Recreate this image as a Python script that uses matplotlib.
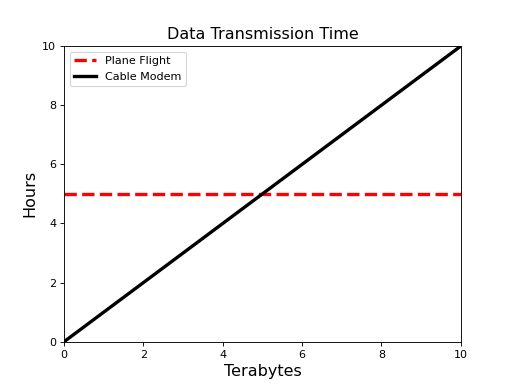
import numpy as np
import matplotlib.pyplot as plt

# terabytes on the x axis
terabytes = [0, 10]
plane_hours = [5, 5]
cable_hours = [0, 10]

fig, ax = plt.subplots(figsize=(6.4, 4.8), dpi=80)

ax.plot(terabytes, plane_hours, 'r--', linewidth=3, label="Plane Flight")
ax.plot(terabytes, cable_hours, 'k-', linewidth=3, label="Cable Modem")

ax.set_xlim(0, 10)
ax.set_ylim(0, 10)
ax.set_title("Data Transmission Time", fontsize='x-large')
ax.set_xlabel("Terabytes", fontsize='x-large')
ax.set_ylabel("Hours", fontsize='x-large')
ax.legend(loc="upper left")

fig.savefig("out.png", dpi=80)
